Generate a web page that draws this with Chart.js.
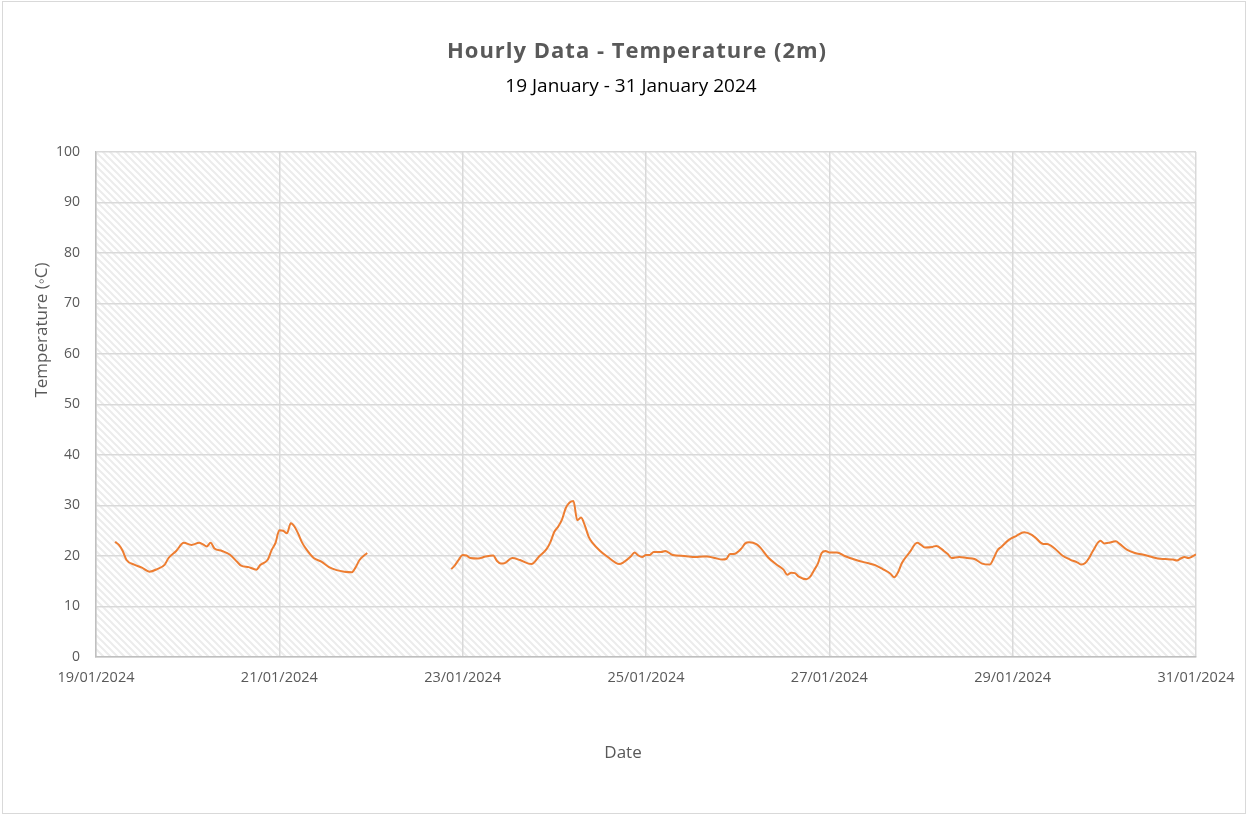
<!DOCTYPE html>
<html>
<head>
<meta charset="utf-8">
<script src="https://cdn.jsdelivr.net/npm/chart.js@4/dist/chart.umd.min.js"></script>
<style>
body { margin: 0; background: #fff; }
</style>
</head>
<body>
<canvas id="myChart" width="1248" height="815"></canvas>
<script>
// hours counted from 19/01/2024 00:00, null = missing readings
var hours = [5, 6, 7, 8, 10, 12, 14, 16, 18, 19, 21, 23, 25, 27, 28, 29, 30, 31, 33, 35, 37, 38, 40, 42, 43, 45, 46, 47, 48, 49, 50, 51, 52, 53, 54, 55, 57, 59, 61, 63, 65, 67, 68, 69, 71,
    82,
    93, 94, 95, 96, 97, 98, 100, 102, 104, 105, 106, 107, 109, 111, 114, 116, 118, 119, 120, 121, 122, 123, 124, 125, 126, 127, 128, 129, 130, 132, 134, 136, 137, 138, 140, 141, 142, 143, 144, 145, 146, 148, 149, 151, 154, 157, 159, 160, 162, 164, 165, 166, 167, 169, 170, 171, 173, 174, 176, 178, 180, 181, 182, 183, 184, 186, 187, 188, 189, 190, 191, 192, 194, 196, 199, 202, 204, 206, 208, 209, 210, 211, 213, 215, 216, 217, 219, 220, 222, 223, 224, 226, 228, 230, 232, 234, 235, 236, 237, 239, 241, 243, 245, 246, 248, 249, 251, 253, 255, 257, 258, 259, 260, 261, 263, 264, 265, 267, 268, 270, 272, 274, 276, 278, 280, 282, 283, 284, 285, 286, 287, 288];
var temps = [22.8, 22.2, 21.0, 19.2, 18.3, 17.7, 16.9, 17.4, 18.3, 19.6, 21.0, 22.6, 22.2, 22.6, 22.3, 21.9, 22.6, 21.5, 21.0, 20.3, 18.8, 18.1, 17.8, 17.3, 18.2, 19.3, 21.2, 22.6, 25.1, 25.0, 24.5, 26.5, 25.8, 24.3, 22.6, 21.4, 19.6, 18.9, 17.8, 17.2, 16.9, 16.8, 17.8, 19.2, 20.6,
    null,
    17.4, 18.2, 19.3, 20.2, 20.1, 19.6, 19.5, 19.9, 20.1, 19.0, 18.5, 18.6, 19.6, 19.2, 18.4, 19.9, 21.4, 22.8, 24.8, 25.8, 27.2, 29.5, 30.6, 30.9, 27.1, 27.6, 26.0, 23.8, 22.6, 21.0, 19.8, 18.7, 18.4, 18.7, 19.9, 20.7, 20.1, 19.8, 20.2, 20.2, 20.8, 20.8, 21.0, 20.2, 20.0, 19.8, 19.9, 19.9, 19.6, 19.3, 19.4, 20.4, 20.4, 21.5, 22.5, 22.7, 22.3, 21.6, 19.7, 18.4, 17.3, 16.3, 16.7, 16.6, 15.9, 15.4, 15.9, 17.2, 18.5, 20.6, 21.0, 20.7, 20.7, 20.0, 19.2, 18.6, 18.2, 17.4, 16.5, 15.8, 16.8, 18.6, 20.7, 22.6, 22.2, 21.7, 21.8, 22.0, 21.0, 20.4, 19.6, 19.8, 19.6, 19.4, 18.5, 18.3, 19.5, 21.1, 21.8, 23.2, 24.0, 24.7, 24.2, 23.6, 22.4, 22.4, 21.5, 20.1, 19.3, 18.7, 18.3, 18.6, 19.6, 21.0, 23.0, 22.5, 22.6, 22.9, 22.4, 21.2, 20.6, 20.3, 19.9, 19.5, 19.4, 19.3, 19.1, 19.5, 19.8, 19.6, 19.9, 20.3];
var tickHours = [0, 48, 96, 144, 192, 240, 288];
var tickLabels = ['19/01/2024', '21/01/2024', '23/01/2024', '25/01/2024', '27/01/2024', '29/01/2024', '31/01/2024'];

var FONT = "'Open Sans', sans-serif";
var GREY = '#595959';

var points = [];
for (var i = 0; i < hours.length; i++) {
    points.push({ x: hours[i], y: temps[i] });
}

// diagonal hatch for the plot area
var tile = document.createElement('canvas');
tile.width = 7; tile.height = 7;
var tctx = tile.getContext('2d');
tctx.strokeStyle = '#ececec';
tctx.lineWidth = 2;
tctx.beginPath();
tctx.moveTo(-1, -1); tctx.lineTo(8, 8);
tctx.moveTo(-8, -1); tctx.lineTo(1, 8);
tctx.moveTo(6, -1); tctx.lineTo(15, 8);
tctx.stroke();

var decor = {
    id: 'decor',
    beforeDraw: function (chart) {
        var c = chart.ctx, a = chart.chartArea;
        c.save();
        c.fillStyle = '#fff';
        c.fillRect(0, 0, chart.width, chart.height);
        c.strokeStyle = '#d9d9d9';
        c.lineWidth = 1;
        c.strokeRect(2.5, 1.5, 1243, 812);
        c.fillStyle = c.createPattern(tile, 'repeat');
        c.fillRect(a.left, a.top, a.right - a.left, a.bottom - a.top);
        c.restore();
    },
    afterDraw: function (chart) {
        var c = chart.ctx;
        c.save();
        c.textAlign = 'center';
        c.textBaseline = 'middle';
        c.fillStyle = GREY;
        c.font = 'bold 22px ' + FONT;
        c.letterSpacing = '1px';
        c.fillText('Hourly Data - Temperature (2m)', 637, 52);
        c.letterSpacing = '0px';
        c.fillStyle = '#000';
        c.font = '19px ' + FONT;
        c.fillText('19 January - 31 January 2024', 631, 87);
        c.fillStyle = GREY;
        c.font = '17px ' + FONT;
        c.fillText('Date', 623, 753);
        c.translate(42, 330);
        c.rotate(-Math.PI / 2);
        c.fillText('Temperature (\u25E6C)', 0, 0);
        c.restore();
    }
};

var ctx = document.getElementById('myChart').getContext('2d');
var myChart = new Chart(ctx, {
    type: 'line',
    data: {
        datasets: [{
            data: points,
            borderColor: '#ed7d31',
            borderWidth: 2,
            pointRadius: 0,
            tension: 0.4,
            cubicInterpolationMode: 'monotone',
            spanGaps: false
        }]
    },
    options: {
        responsive: false,
        devicePixelRatio: 1,
        animation: false,
        layout: { padding: { top: 152, right: 52, left: 0, bottom: 0 } },
        plugins: { legend: { display: false }, tooltip: { enabled: false } },
        scales: {
            x: {
                type: 'linear',
                min: 0,
                max: 288,
                afterFit: function (s) { s.height = 158; },
                afterBuildTicks: function (s) {
                    s.ticks = tickHours.map(function (h) { return { value: h }; });
                },
                ticks: {
                    color: GREY,
                    font: { family: FONT, size: 14.5 },
                    padding: 12,
                    maxRotation: 0,
                    autoSkip: false,
                    callback: function (v) { return tickLabels[tickHours.indexOf(v)]; }
                },
                grid: { color: '#d9d9d9', lineWidth: 1.5, drawTicks: false },
                border: { color: '#bfbfbf', width: 1.5 }
            },
            y: {
                min: 0,
                max: 100,
                afterFit: function (s) { s.width = 96; },
                ticks: {
                    stepSize: 10,
                    color: GREY,
                    font: { family: FONT, size: 14 },
                    padding: 16
                },
                grid: { color: '#d9d9d9', lineWidth: 1.5, drawTicks: false },
                border: { color: '#bfbfbf', width: 1.5 }
            }
        }
    },
    plugins: [decor]
});
</script>
</body>
</html>
